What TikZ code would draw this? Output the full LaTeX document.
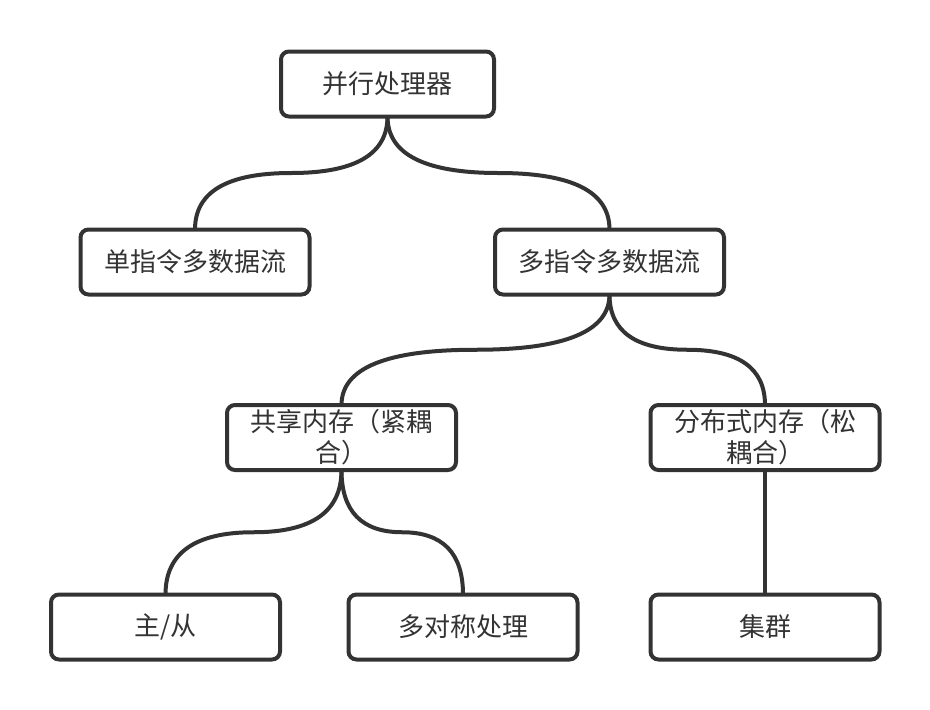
\documentclass[tikz,border=0pt]{standalone}
\usepackage{fontspec}
\newfontfamily\cjk{Noto Sans CJK SC}
\usetikzlibrary{calc}
\definecolor{lc}{HTML}{333333}
\definecolor{tc}{HTML}{333333}
\newcommand\tlink[2]{%
  \coordinate (m) at ($(#1.south)!0.5!(#2.north)$);
  \coordinate (ca) at (#1.south |- m);
  \coordinate (cb) at (#2.north |- m);
  \draw[link] (#1.south) .. controls ($(#1.south)!0.6667!(ca)$) and ($(m)!0.6667!(ca)$) .. (m)
     .. controls ($(m)!0.6667!(cb)$) and ($(#2.north)!0.6667!(cb)$) .. (#2.north);}
\begin{document}
\begin{tikzpicture}[x=1pt,y=-1pt,
  box/.style={draw=lc, line width=4pt, rounded corners=8pt, minimum width=229pt,
    minimum height=65pt, inner sep=0pt, outer sep=0pt, fill=white, text=tc,
    font=\cjk\fontsize{26}{31}\selectfont, align=center},
  link/.style={draw=lc, line width=4pt}]
\useasboundingbox (0,0) rectangle (930,710);
\node[box, minimum width=213pt] (root) at (387.5,84) {并行处理器};
\node[box] (simd) at (195,262) {单指令多数据流};
\node[box] (mimd) at (609.5,262) {多指令多数据流};
\node[box] (shm) at (341.5,437.5) {共享内存（紧耦\\合）};
\node[box] (dist) at (765,437.5) {分布式内存（松\\耦合）};
\node[box] (ms) at (165.5,627) {主/从};
\node[box] (smp) at (463,627) {多对称处理};
\node[box] (clu) at (765,627) {集群};
\tlink{root}{simd}
\tlink{root}{mimd}
\tlink{mimd}{shm}
\tlink{mimd}{dist}
\tlink{shm}{ms}
\tlink{shm}{smp}
\tlink{dist}{clu}
\end{tikzpicture}
\end{document}
